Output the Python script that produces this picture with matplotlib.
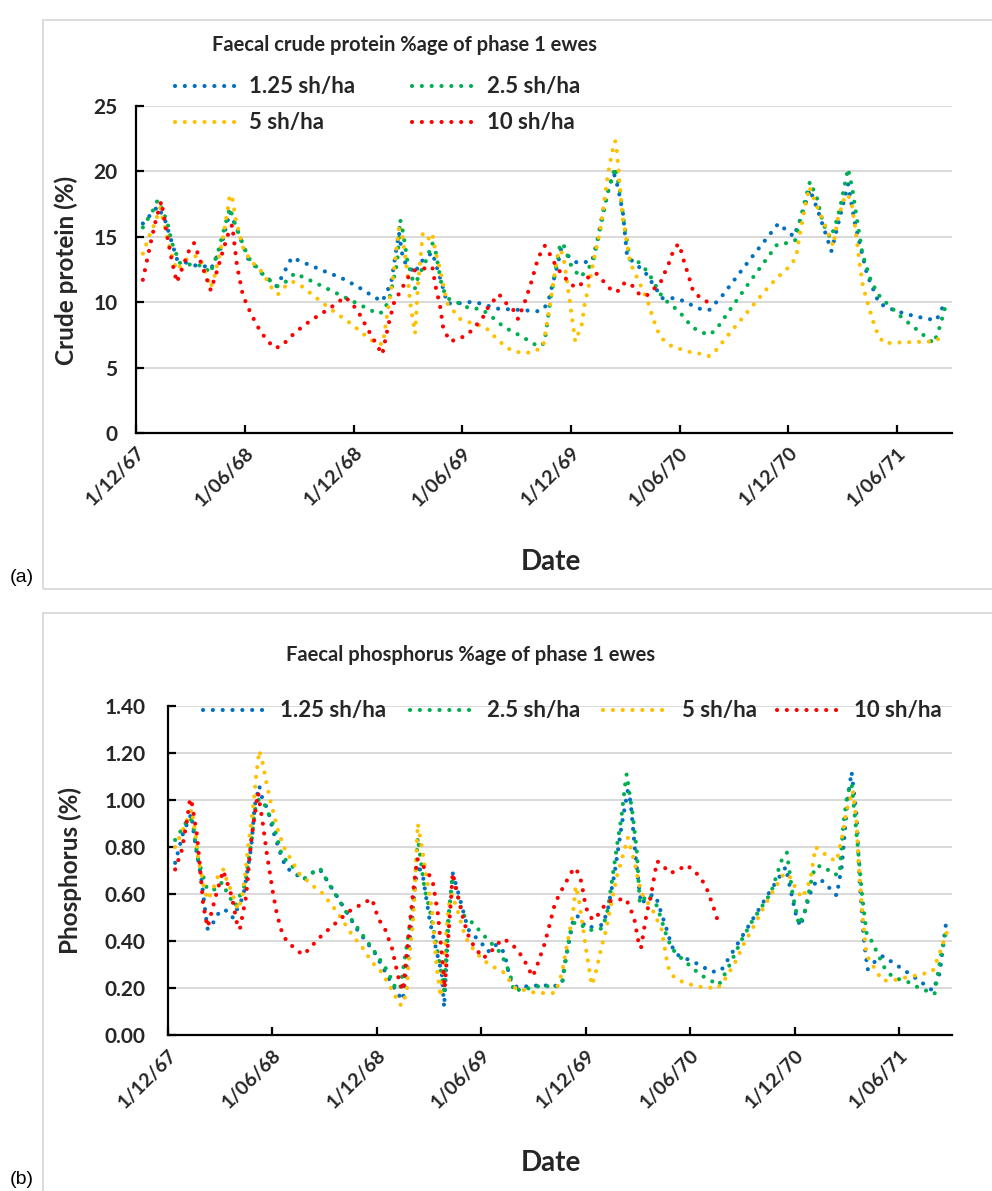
import numpy as np
import pandas as pd
import matplotlib.pyplot as plt
from matplotlib.lines import Line2D
from matplotlib.patches import Rectangle

plt.rcParams['font.family'] = ['Lato', 'DejaVu Sans']

start = pd.Timestamp('1967-12-01')
end = pd.Timestamp('1971-09-01')
tick_dates = ['1967-12-01', '1968-06-01', '1968-12-01', '1969-06-01',
              '1969-12-01', '1970-06-01', '1970-12-01', '1971-06-01']
tick_labels = ['1/12/67', '1/06/68', '1/12/68', '1/06/69',
               '1/12/69', '1/06/70', '1/12/70', '1/06/71']

names = ['1.25 sh/ha', '2.5 sh/ha', '5 sh/ha', '10 sh/ha']
colors = ['#0070C0', '#00B050', '#FFC000', '#FF0000']

# crude protein (%) -- x is days since 1 Dec 1967
cp_days_125 = [12, 37, 49, 69, 96, 113, 126, 142, 158, 168, 189, 214, 237, 262, 325, 343,
               372, 400, 414, 429, 442, 449, 469, 477, 498, 514, 523, 540, 561, 578, 607,
               645, 674, 686, 694, 708, 714, 724, 741, 766, 775, 785, 797, 803, 810, 818,
               825, 842, 855, 884, 901, 916, 946, 963, 985, 1027, 1079, 1092, 1105, 1119,
               1132, 1146, 1168, 1179, 1196, 1208, 1228, 1248, 1277, 1310, 1344, 1352, 1359]
cp_125 = [16.0, 17.3, 16.3, 13.3, 12.8, 12.8, 12.5, 14.0, 16.9, 15.8, 13.3, 12.1, 11.2, 13.4,
          12.2, 11.9, 11.2, 10.4, 10.05, 11.5, 15.3, 13.2, 12.2, 13.0, 13.8, 11.4, 9.9, 9.9,
          10.0, 9.9, 9.5, 9.4, 9.3, 9.5, 10.3, 12.8, 14.0, 13.6, 13.0, 13.1, 14.7, 17.0, 19.1,
          19.8, 18.7, 16.8, 13.5, 12.8, 12.3, 10.3, 10.3, 10.15, 9.5, 9.4, 10.5, 13.0, 16.0,
          15.5, 15.0, 16.7, 18.6, 16.9, 13.9, 15.9, 19.0, 15.9, 12.1, 9.9, 9.3, 8.9, 8.6, 9.3,
          10.1]

cp_days_25 = [12, 21, 29, 37, 46, 53, 61, 74, 100, 113, 125, 138, 148, 158, 168, 189, 214,
              237, 246, 267, 298, 345, 407, 417, 427, 439, 444, 449, 456, 469, 474, 486, 498,
              503, 514, 523, 531, 546, 561, 578, 592, 618, 649, 676, 686, 691, 696, 701, 713,
              718, 731, 746, 758, 768, 780, 793, 805, 812, 820, 830, 843, 860, 885, 912, 934,
              949, 964, 976, 996, 1035, 1077, 1092, 1107, 1119, 1132, 1144, 1154, 1166, 1174,
              1183, 1196, 1203, 1211, 1220, 1233, 1246, 1262, 1287, 1314, 1340, 1350, 1359]
cp_25 = [15.7, 16.4, 17.0, 17.8, 16.9, 16.1, 14.5, 13.0, 12.8, 12.8, 12.2, 13.8, 15.5, 17.2,
         15.8, 13.4, 12.1, 11.2, 11.3, 12.2, 11.55, 10.5, 9.1, 9.3, 10.5, 13.0, 16.3, 15.3,
         13.2, 11.05, 11.9, 13.0, 14.5, 14.0, 11.2, 10.3, 10.15, 9.85, 9.5, 9.5, 9.1, 8.1, 7.35,
         6.6, 6.85, 8.4, 10.1, 11.4, 14.5, 14.4, 12.8, 11.9, 12.45, 13.1, 15.6, 18.5, 20.3,
         18.8, 16.0, 13.2, 13.1, 12.3, 10.3, 9.3, 8.1, 7.7, 7.5, 8.0, 9.3, 11.8, 14.4, 14.5,
         14.7, 16.9, 19.2, 17.9, 16.0, 14.9, 15.75, 17.3, 20.2, 18.7, 16.3, 13.7, 11.8, 10.6,
         9.85, 8.8, 7.8, 6.85, 8.1, 9.6]

cp_days_5 = [12, 24, 32, 41, 46, 54, 63, 69, 83, 95, 105, 113, 126, 133, 145, 155, 158, 162,
             168, 180, 192, 212, 229, 239, 251, 264, 279, 308, 335, 363, 388, 405, 415, 420,
             432, 442, 447, 456, 461, 469, 474, 482, 491, 498, 504, 511, 523, 545, 570, 587,
             598, 623, 639, 655, 671, 684, 696, 708, 714, 719, 729, 738, 749, 754, 761, 768,
             780, 793, 800, 805, 808, 813, 818, 825, 830, 845, 859, 864, 875, 884, 897, 912,
             929, 946, 963, 974, 996, 1030, 1063, 1087, 1100, 1109, 1114, 1124, 1131, 1136,
             1144, 1158, 1171, 1179, 1191, 1196, 1203, 1210, 1216, 1221, 1231, 1241, 1248,
             1257, 1273, 1309, 1342, 1357]
cp_5 = [13.7, 15.2, 16.0, 17.2, 16.3, 14.7, 13.2, 12.45, 13.2, 13.5, 13.5, 12.8, 11.1, 12.1,
        14.5, 17.2, 18.2, 18.0, 16.3, 14.2, 13.2, 12.3, 11.05, 10.6, 11.2, 11.55, 11.2, 10.15,
        9.2, 8.3, 7.35, 6.8, 6.8, 8.4, 11.9, 15.6, 15.3, 12.3, 9.9, 7.6, 11.4, 15.25, 14.8,
        15.25, 13.7, 12.5, 9.9, 8.7, 8.3, 8.1, 7.55, 6.5, 6.2, 6.1, 6.27, 6.6, 9.9, 13.5, 14.0,
        13.2, 10.0, 7.0, 8.3, 9.9, 11.3, 13.0, 15.5, 19.8, 21.5, 22.3, 21.5, 18.8, 16.3, 14.5,
        13.0, 11.55, 10.15, 9.4, 7.9, 7.2, 6.7, 6.45, 6.2, 6.07, 5.87, 6.3, 7.55, 9.4, 11.2,
        12.3, 12.8, 13.5, 14.95, 17.3, 18.8, 18.2, 17.3, 15.8, 14.3, 16.4, 18.1, 18.2, 17.3,
        15.0, 12.7, 11.2, 9.6, 8.1, 7.35, 6.85, 6.9, 6.95, 7.0, 7.5]

cp_days_10 = [12, 19, 26, 34, 43, 51, 61, 69, 79, 91, 98, 110, 121, 126, 137, 147, 157, 162,
              170, 180, 194, 210, 232, 244, 268, 294, 325, 352, 372, 388, 405, 414, 425, 434,
              444, 456, 466, 472, 498, 503, 511, 516, 523, 528, 543, 558, 582, 592, 610, 620,
              634, 642, 654, 664, 674, 682, 687, 696, 704, 714, 726, 738, 749, 760, 773, 785,
              797, 808, 818, 828, 838, 847, 860, 872, 884, 890, 897, 902, 911, 917, 921, 927,
              936, 949, 964]
cp_10 = [11.7, 13.2, 14.7, 16.3, 17.7, 15.5, 13.1, 11.5, 12.7, 14.1, 14.5, 12.96, 11.55, 10.9,
         12.45, 14.0, 15.45, 15.9, 12.8, 10.5, 9.06, 7.7, 6.5, 6.6, 7.7, 8.6, 9.5, 10.4, 9.4,
         8.06, 6.7, 6.0, 8.4, 10.0, 10.8, 11.8, 12.4, 12.45, 12.7, 11.3, 9.7, 8.1, 7.4, 7.0,
         7.2, 7.55, 8.75, 9.64, 10.6, 10.0, 9.4, 8.7, 10.1, 11.5, 13.1, 14.0, 14.3, 13.6, 12.9,
         12.2, 11.6, 11.1, 11.4, 11.9, 12.2, 11.6, 11.0, 10.75, 11.4, 11.5, 11.06, 10.5, 10.55,
         11.1, 11.7, 12.46, 13.15, 13.86, 14.45, 13.75, 13.0, 12.2, 10.8, 10.3, 9.9]

# phosphorus (%) -- x is days since 1 Dec 1967
p_days_125 = [13, 27, 41, 49, 58, 67, 70, 83, 91, 104, 114, 132, 146, 152, 160, 166, 175, 184,
              200, 208, 222, 236, 252, 266, 278, 296, 331, 362, 388, 401, 411, 420, 427, 432,
              437, 446, 458, 472, 479, 483, 491, 498, 505, 525, 549, 560, 572, 584, 591, 598,
              607, 621, 656, 673, 689, 694, 708, 715, 732, 760, 769, 781, 794, 804, 809, 818,
              827, 848, 855, 872, 881, 891, 921, 951, 967, 986, 1024, 1052, 1080, 1087, 1099,
              1106, 1122, 1134, 1145, 1169, 1178, 1188, 1195, 1204, 1209, 1216, 1223, 1236,
              1250, 1279, 1309, 1337, 1349, 1360]
p_125 = [0.733, 0.86, 0.94, 0.80, 0.68, 0.50, 0.45, 0.49, 0.53, 0.53, 0.50, 0.59, 0.80, 0.975,
         1.06, 1.0, 0.96, 0.87, 0.75, 0.71, 0.69, 0.66, 0.69, 0.705, 0.66, 0.59, 0.45, 0.35,
         0.235, 0.18, 0.15, 0.335, 0.49, 0.63, 0.726, 0.676, 0.485, 0.335, 0.264, 0.12, 0.506,
         0.69, 0.63, 0.45, 0.39, 0.356, 0.385, 0.37, 0.32, 0.243, 0.207, 0.207, 0.214, 0.207,
         0.22, 0.307, 0.48, 0.51, 0.456, 0.47, 0.534, 0.69, 0.904, 1.04, 0.99, 0.748, 0.56,
         0.60, 0.576, 0.45, 0.378, 0.342, 0.31, 0.27, 0.275, 0.35, 0.50, 0.61, 0.715, 0.634,
         0.50, 0.463, 0.60, 0.66, 0.655, 0.594, 0.72, 1.0, 1.12, 0.93, 0.66, 0.42, 0.28, 0.314,
         0.337, 0.29, 0.24, 0.19, 0.264, 0.475]

p_days_25 = [13, 30, 39, 44, 53, 69, 83, 95, 105, 118, 135, 147, 152, 158, 166, 173, 182, 187,
             200, 217, 236, 252, 266, 280, 313, 359, 383, 397, 406, 429, 434, 437, 449, 458,
             472, 483, 490, 498, 505, 516, 533, 558, 582, 598, 605, 621, 636, 654, 673, 689,
             703, 710, 718, 732, 748, 760, 769, 786, 793, 799, 802, 813, 820, 825, 828, 839,
             855, 872, 881, 891, 904, 931, 963, 980, 1003, 1021, 1054, 1075, 1082, 1092, 1103,
             1113, 1127, 1134, 1148, 1162, 1174, 1181, 1188, 1195, 1206, 1213, 1222, 1229,
             1244, 1253, 1267, 1297, 1311, 1340, 1352, 1360]
p_25 = [0.83, 0.897, 0.925, 0.90, 0.747, 0.62, 0.62, 0.65, 0.60, 0.55, 0.64, 0.833, 0.954,
        1.0, 1.0, 0.958, 0.91, 0.876, 0.76, 0.72, 0.66, 0.69, 0.71, 0.65, 0.52, 0.364, 0.278,
        0.207, 0.195, 0.56, 0.72, 0.84, 0.62, 0.534, 0.35, 0.193, 0.49, 0.68, 0.605, 0.513,
        0.477, 0.41, 0.35, 0.264, 0.186, 0.20, 0.20, 0.214, 0.204, 0.214, 0.435, 0.477, 0.48,
        0.45, 0.446, 0.456, 0.534, 0.82, 0.93, 1.06, 1.11, 0.93, 0.776, 0.56, 0.568, 0.60,
        0.55, 0.42, 0.37, 0.342, 0.314, 0.257, 0.214, 0.29, 0.406, 0.484, 0.605, 0.76, 0.776,
        0.60, 0.47, 0.52, 0.684, 0.72, 0.716, 0.684, 0.684, 0.904, 1.03, 1.07, 0.80, 0.605,
        0.42, 0.406, 0.33, 0.285, 0.247, 0.224, 0.204, 0.176, 0.35, 0.44]

p_days_5 = [13, 27, 42, 49, 53, 65, 70, 79, 88, 97, 103, 110, 123, 130, 135, 140, 146, 151,
            154, 160, 165, 172, 179, 184, 193, 205, 231, 245, 261, 273, 283, 296, 324, 339, 357,
            371, 387, 406, 411, 418, 421, 428, 432, 435, 437, 444, 453, 462, 470, 477, 491, 497,
            502, 507, 516, 523, 533, 551, 570, 586, 610, 628, 642, 677, 689, 696, 708, 713, 718,
            727, 732, 741, 747, 759, 764, 785, 796, 804, 816, 822, 828, 847, 863, 870, 874, 881,
            891, 907, 926, 961, 973, 991, 1006, 1024, 1040, 1057, 1076, 1085, 1092, 1108, 1117,
            1124, 1132, 1145, 1160, 1169, 1180, 1186, 1192, 1197, 1204, 1207, 1214, 1221, 1239,
            1249, 1267, 1283, 1319, 1337, 1349, 1361]
p_5 = [0.80, 0.876, 0.96, 0.847, 0.755, 0.612, 0.577, 0.62, 0.677, 0.705, 0.66, 0.62, 0.534,
       0.59, 0.677, 0.79, 0.904, 1.01, 1.09, 1.21, 1.17, 1.08, 1.0, 0.954, 0.868, 0.79, 0.684,
       0.655, 0.62, 0.60, 0.563, 0.525, 0.42, 0.378, 0.31, 0.278, 0.214, 0.13, 0.13, 0.193,
       0.307, 0.463, 0.62, 0.79, 0.90, 0.80, 0.66, 0.53, 0.29, 0.164, 0.55, 0.60, 0.563, 0.527,
       0.45, 0.406, 0.37, 0.32, 0.29, 0.27, 0.193, 0.193, 0.18, 0.18, 0.264, 0.363, 0.513,
       0.634, 0.584, 0.435, 0.35, 0.214, 0.257, 0.385, 0.427, 0.676, 0.768, 0.84, 0.733,
       0.662, 0.605, 0.534, 0.45, 0.35, 0.293, 0.257, 0.236, 0.221, 0.207, 0.20, 0.236, 0.307,
       0.385, 0.463, 0.537, 0.61, 0.684, 0.684, 0.648, 0.584, 0.622, 0.676, 0.80, 0.776, 0.75,
       0.74, 0.86, 0.954, 1.0, 1.04, 0.904, 0.747, 0.506, 0.342, 0.27, 0.233, 0.233, 0.243,
       0.26, 0.274, 0.35, 0.435]

p_days_10 = [13, 25, 34, 39, 42, 51, 56, 62, 67, 70, 77, 86, 97, 112, 121, 126, 137, 146, 151,
             156, 158, 166, 173, 184, 191, 200, 208, 222, 236, 249, 261, 287, 317, 345, 357, 368,
             380, 392, 403, 411, 429, 436, 446, 455, 463, 472, 481, 484, 495, 498, 502, 518, 528,
             540, 551, 563, 575, 586, 600, 610, 621, 630, 638, 647, 659, 668, 677, 689, 698, 710,
             718, 723, 729, 734, 743, 755, 767, 781, 801, 815, 822, 827, 837, 844, 855, 865, 876,
             890, 905, 918, 930, 940, 953, 963]
p_10 = [0.705, 0.79, 0.918, 1.006, 0.99, 0.854, 0.726, 0.555, 0.49, 0.46, 0.527, 0.61, 0.70,
        0.59, 0.477, 0.45, 0.59, 0.833, 0.918, 1.0, 1.03, 0.904, 0.776, 0.605, 0.513, 0.435,
        0.40, 0.37, 0.342, 0.37, 0.406, 0.463, 0.527, 0.566, 0.58, 0.496, 0.45, 0.37, 0.247,
        0.19, 0.612, 0.75, 0.72, 0.69, 0.655, 0.52, 0.292, 0.20, 0.577, 0.69, 0.646, 0.48,
        0.406, 0.364, 0.328, 0.35, 0.385, 0.41, 0.392, 0.364, 0.33, 0.285, 0.25, 0.307, 0.392,
        0.477, 0.563, 0.62, 0.66, 0.712, 0.69, 0.65, 0.567, 0.52, 0.49, 0.52, 0.567, 0.575,
        0.58, 0.50, 0.405, 0.37, 0.52, 0.588, 0.74, 0.724, 0.69, 0.697, 0.724, 0.705, 0.672,
        0.636, 0.55, 0.473]

cp_series = [(cp_days_125, cp_125), (cp_days_25, cp_25), (cp_days_5, cp_5), (cp_days_10, cp_10)]
p_series = [(p_days_125, p_125), (p_days_25, p_25), (p_days_5, p_5), (p_days_10, p_10)]

W, H = 992, 1191
DOT = dict(lw=3.0, linestyle=(0, (0.01, 2.35)), dash_capstyle='round', solid_capstyle='round')
INK = '#262626'


def fx(px):
    return px / W


def fy(py):
    return 1 - py / H


def to_dates(days):
    return start + pd.to_timedelta(np.array(days), unit='D')


fig = plt.figure(figsize=(W / 100, H / 100), dpi=100)

# chart frames
fig.add_artist(Rectangle((fx(43), fy(589)), 1.2, fy(20) - fy(589), transform=fig.transFigure,
                         fill=False, edgecolor='#d9d9d9', lw=1.3))
fig.add_artist(Rectangle((fx(43), fy(1240)), 1.2, fy(613) - fy(1240), transform=fig.transFigure,
                         fill=False, edgecolor='#d9d9d9', lw=1.3))


def panel(box, series, yticks, fmt, ylabel, title, title_xy, ylabel_xy, date_xy, ypad):
    ax = fig.add_axes(box)
    for (d, v), c in zip(series, colors):
        ax.plot(to_dates(d), v, color=c, **DOT)
    ax.set_xlim(start, end)
    ax.set_ylim(yticks[0], yticks[-1])
    ax.set_yticks(yticks)
    ax.set_yticklabels([fmt % t for t in yticks])
    ax.set_xticks(pd.to_datetime(tick_dates))
    ax.set_xticklabels(tick_labels, rotation=45, ha='right', va='top', rotation_mode='anchor')
    for s in ['top', 'right']:
        ax.spines[s].set_visible(False)
    for s in ['left', 'bottom']:
        ax.spines[s].set_linewidth(1.6)
    ax.grid(axis='y', color='#d9d9d9', lw=1.4)
    ax.set_axisbelow(True)
    ax.tick_params(axis='both', direction='in', length=6, width=1.6)
    ax.tick_params(axis='y', pad=ypad, labelsize=15)
    ax.tick_params(axis='x', pad=8, labelsize=14)
    for lab in ax.get_xticklabels() + ax.get_yticklabels():
        lab.set_fontweight('bold')
        lab.set_color(INK)
    fig.text(fx(title_xy[0]), fy(title_xy[1]), title, ha='center', va='center',
             fontsize=14.5, fontweight='bold', color=INK)
    fig.text(fx(ylabel_xy[0]), fy(ylabel_xy[1]), ylabel, rotation=90, ha='center', va='center',
             fontsize=17.5, fontweight='bold', color=INK)
    fig.text(fx(date_xy[0]), fy(date_xy[1]), 'Date', ha='center', va='center',
             fontsize=20, fontweight='bold', color=INK)
    return ax


panel([fx(135.7), fy(433), fx(951.7) - fx(135.7), fy(105.7) - fy(433)], cp_series,
      [0, 5, 10, 15, 20, 25], '%d', 'Crude protein (%)',
      'Faecal crude protein %age of phase 1 ewes', (404, 45), (66, 270), (551, 562), 13)
panel([fx(167.7), fy(1035.4), fx(951.7) - fx(167.7), fy(705.8) - fy(1035.4)], p_series,
      [0, 0.2, 0.4, 0.6, 0.8, 1.0, 1.2, 1.4], '%.2f', 'Phosphorus (%)',
      'Faecal phosphorus %age of phase 1 ewes', (471, 655), (70, 870), (551, 1163), 16)


def legend_entry(x0, x1, y, color, label):
    fig.add_artist(Line2D([fx(x0), fx(x1)], [fy(y), fy(y)], transform=fig.transFigure,
                          color=color, **DOT))
    fig.text(fx(x1 + 12), fy(y), label, ha='left', va='center', fontsize=16,
             fontweight='bold', color=INK)


# legend (a): two rows
legend_entry(175, 237, 86, colors[0], names[0])
legend_entry(412, 475, 86, colors[1], names[1])
legend_entry(175, 237, 122, colors[2], names[2])
legend_entry(412, 475, 122, colors[3], names[3])
# legend (b): one row
legend_entry(203, 268, 710, colors[0], names[0])
legend_entry(410, 475, 710, colors[1], names[1])
legend_entry(603, 670, 710, colors[2], names[2])
legend_entry(777, 842, 710, colors[3], names[3])

fig.text(fx(10), fy(578), '(a)', family=['Liberation Sans', 'DejaVu Sans'], fontsize=14,
         ha='left', va='center')
fig.text(fx(10), fy(1179), '(b)', family=['Liberation Sans', 'DejaVu Sans'], fontsize=14,
         ha='left', va='center')

fig.savefig('out.png', dpi=100)
